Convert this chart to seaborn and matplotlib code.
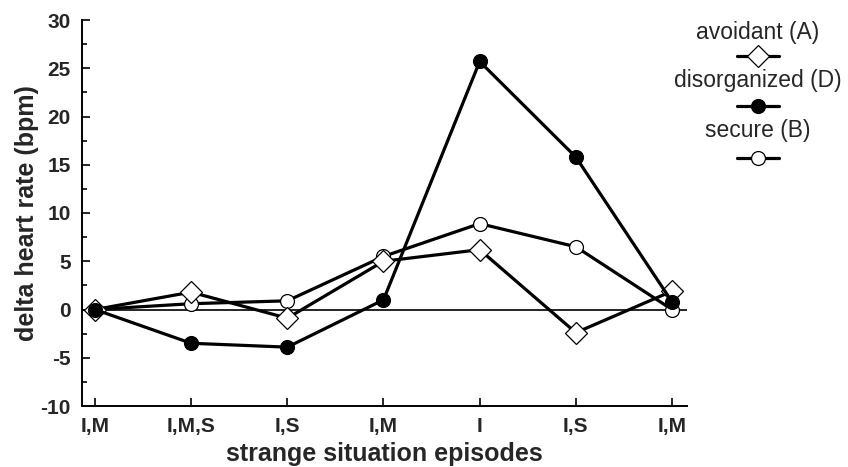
import matplotlib
matplotlib.use("Agg")
import matplotlib.pyplot as plt
from matplotlib.lines import Line2D
import seaborn as sns
import pandas as pd

# ---- data ----
episodes = ["I,M", "I,M,S", "I,S", "I,M", "I", "I,S", "I,M"]
avoidant = [0.0, 1.8, -0.9, 5.0, 6.2, -2.4, 1.9]
disorganized = [0.0, -3.5, -3.9, 1.0, 25.7, 15.8, 0.8]
secure = [0.0, 0.6, 0.9, 5.5, 8.9, 6.5, 0.0]
series_names = ["avoidant (A)", "disorganized (D)", "secure (B)"]
y_ticks = [-10, -5, 0, 5, 10, 15, 20, 25, 30]

sns.set_style("ticks")
plt.rcParams["font.family"] = ["Liberation Sans", "DejaVu Sans"]
plt.rcParams["axes.unicode_minus"] = False

fig = plt.figure(figsize=(8.48, 4.67), dpi=100)
W, H = 848, 467
ax = fig.add_axes([82 / W, (H - 406) / H, (687 - 82) / W, 386 / H])

pos = list(range(len(episodes)))
styles = {
    "avoidant (A)": dict(marker="D", markersize=11, markerfacecolor="white"),
    "disorganized (D)": dict(marker="o", markersize=10, markerfacecolor="black"),
    "secure (B)": dict(marker="o", markersize=10, markerfacecolor="white"),
}
data = {"avoidant (A)": avoidant, "disorganized (D)": disorganized, "secure (B)": secure}

ax.axhline(0, color="black", lw=1.2, zorder=1)
for name in ["secure (B)", "avoidant (A)", "disorganized (D)"]:
    df = pd.DataFrame({"x": pos, "y": data[name]})
    sns.lineplot(data=df, x="x", y="y", ax=ax, color="black", lw=2.3,
                 markeredgecolor="black", markeredgewidth=0.9, zorder=3,
                 **styles[name])

ax.set_xlim(-0.135, 6.156)
ax.set_ylim(-10, 30)
ax.set_xticks(pos)
ax.set_xticklabels(episodes)
ax.set_yticks(y_ticks)
ax.set_yticks([v + 2.5 for v in y_ticks[:-1]], minor=True)
for s in ["top", "right"]:
    ax.spines[s].set_visible(False)
for s in ["left", "bottom"]:
    ax.spines[s].set_linewidth(1.4)
    ax.spines[s].set_color("black")
ax.tick_params(which="major", direction="in", length=6, width=1.2, color="black",
               labelsize=15, pad=8)
ax.tick_params(which="minor", direction="in", length=3.8, width=1.2, color="black")
for lab in ax.get_xticklabels() + ax.get_yticklabels():
    lab.set_fontweight("bold")
ax.set_xlabel("strange situation episodes", fontsize=18, fontweight="bold", labelpad=4)
ax.set_ylabel("delta heart rate (bpm)", fontsize=18, fontweight="bold", labelpad=1)
ax.grid(False)

# ---- custom legend (text above marker) ----
text_y = [32, 80, 131]
mark_y = [56, 106, 158]
cx = 758
for name, ty, my in zip(series_names, text_y, mark_y):
    fig.text(cx / W, 1 - ty / H, name, ha="center", va="center", fontsize=16.5)
    st = styles[name]
    fig.add_artist(Line2D([(cx - 21) / W, (cx + 21) / W], [1 - my / H, 1 - my / H],
                          transform=fig.transFigure, color="black", lw=2.3))
    fig.add_artist(Line2D([cx / W], [1 - my / H], transform=fig.transFigure,
                          linestyle="none", marker=st["marker"],
                          markersize=st["markersize"],
                          markerfacecolor=st["markerfacecolor"],
                          markeredgecolor="black", markeredgewidth=0.9))

fig.savefig("out.png", dpi=100)
